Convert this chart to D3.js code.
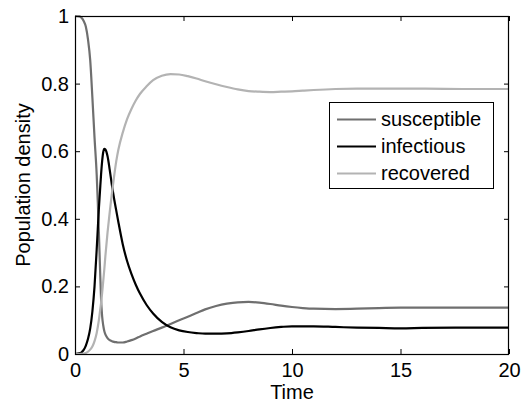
<!DOCTYPE html>
<html>
<head>
<meta charset="utf-8">
<script src="https://cdn.jsdelivr.net/npm/d3@7"></script>
<style>
  html, body { margin: 0; padding: 0; background: #fff; }
  svg { display: block; }
  text { font-family: "Liberation Sans", Arial, Helvetica, sans-serif; fill: #000; }
</style>
</head>
<body>
<svg id="chart" width="521" height="403"></svg>
<script>
// ---- data ----
const times = [0,0.2,0.3,0.4,0.5,0.6,0.7,0.8,0.9,1.0,1.05,1.1,1.15,1.2,1.25,1.3,1.35,1.4,1.5,1.6,1.7,1.8,1.9,2.0,2.2,2.4,2.6,2.8,3.0,3.3,3.6,4.0,4.4,4.8,5.2,5.6,6.0,6.5,7.0,7.5,8.0,8.5,9.0,9.5,10,10.5,11,12,13,14,15,16,18,20];
const susceptible = [1.0,0.999,0.995,0.985,0.968,0.93,0.87,0.76,0.64,0.53,0.45,0.36,0.26,0.165,0.112,0.085,0.068,0.058,0.047,0.041,0.038,0.036,0.035,0.034,0.034,0.037,0.041,0.046,0.052,0.06,0.068,0.078,0.089,0.1,0.11,0.121,0.132,0.142,0.149,0.153,0.154,0.152,0.148,0.143,0.139,0.136,0.134,0.133,0.134,0.136,0.137,0.137,0.137,0.137];
const infectious = [0,0.002,0.005,0.012,0.025,0.045,0.075,0.125,0.2,0.31,0.37,0.43,0.48,0.53,0.57,0.597,0.607,0.605,0.585,0.545,0.5,0.46,0.425,0.39,0.325,0.275,0.237,0.205,0.178,0.145,0.12,0.095,0.079,0.07,0.065,0.062,0.06,0.06,0.061,0.064,0.068,0.073,0.077,0.08,0.082,0.082,0.082,0.08,0.078,0.077,0.076,0.077,0.078,0.078];
const recovered = [0,0,0.0005,0.001,0.003,0.007,0.013,0.022,0.038,0.062,0.08,0.1,0.125,0.15,0.18,0.215,0.25,0.29,0.36,0.42,0.475,0.525,0.57,0.605,0.655,0.695,0.725,0.75,0.77,0.792,0.81,0.823,0.828,0.827,0.822,0.815,0.807,0.798,0.79,0.783,0.778,0.776,0.775,0.776,0.777,0.779,0.781,0.784,0.785,0.785,0.785,0.785,0.784,0.784];
const seriesNames = ["susceptible","infectious","recovered"];
const seriesColors = ["#6f6f6f","#000000","#b3b3b3"];
const xTicks = [0,5,10,15,20];
const yTicks = [0,0.2,0.4,0.6,0.8,1];
const xLabel = "Time";
const yLabel = "Population density";

// ---- layout ----
const svg = d3.select("#chart");
const L = 75, R = 509, T = 16, B = 354;
const x = d3.scaleLinear().domain([0,20]).range([L,R]);
const y = d3.scaleLinear().domain([0,1]).range([B,T]);
const fs = 20;

const series = [susceptible, infectious, recovered];
const line = d3.line()
  .x((d,i) => x(times[i]))
  .y(d => y(d))
  .curve(d3.curveMonotoneX);

const plot = svg.append("g");
plot.append("clipPath").attr("id","clip").append("rect")
  .attr("x",L).attr("y",T-2).attr("width",R-L).attr("height",B-T+4);

const lines = plot.append("g").attr("clip-path","url(#clip)");
series.forEach((s,k) => {
  lines.append("path")
    .datum(s)
    .attr("d", line)
    .attr("fill","none")
    .attr("stroke", seriesColors[k])
    .attr("stroke-width", 2.2)
    .attr("stroke-linejoin","round");
});

// axes (MATLAB-like: inward ticks, box)
const tickLen = 5;
const xAxisB = d3.axisBottom(x).tickValues(xTicks).tickSize(-tickLen).tickPadding(9).tickFormat(d3.format("d"));
const xAxisT = d3.axisTop(x).tickValues(xTicks).tickSize(-tickLen).tickFormat("");
const yAxisL = d3.axisLeft(y).tickValues(yTicks).tickSize(-tickLen).tickPadding(6).tickFormat(d => d === 0 || d === 1 ? String(d) : d3.format(".1f")(d));
const yAxisR = d3.axisRight(y).tickValues(yTicks).tickSize(-tickLen).tickFormat("");

function style(g) {
  g.select(".domain").remove();
  g.selectAll(".tick line").attr("stroke","#000").attr("stroke-width",1);
  g.selectAll(".tick text").attr("font-size", fs).attr("font-family","Liberation Sans, Arial, sans-serif").attr("fill","#000");
}
svg.append("g").attr("transform",`translate(0,${B})`).call(xAxisB).call(style);
svg.append("g").attr("transform",`translate(0,${T})`).call(xAxisT).call(style);
svg.append("g").attr("transform",`translate(${L},0)`).call(yAxisL).call(style);
svg.append("g").attr("transform",`translate(${R},0)`).call(yAxisR).call(style);

svg.append("rect")
  .attr("x",L+0.5).attr("y",T+0.5).attr("width",R-L-1).attr("height",B-T)
  .attr("fill","none").attr("stroke","#000").attr("stroke-width",1.2);

// axis labels
svg.append("text").attr("x",(L+R)/2).attr("y",399).attr("text-anchor","middle")
  .attr("font-size",fs).text(xLabel);
svg.append("text").attr("transform",`translate(30,${(T+B)/2}) rotate(-90)`)
  .attr("text-anchor","middle").attr("font-size",fs).text(yLabel);

// legend
const lg = svg.append("g");
lg.append("rect").attr("x",329.5).attr("y",102.5).attr("width",164).attr("height",86)
  .attr("fill","#fff").attr("stroke","#000").attr("stroke-width",1);
const rowY = [119.5,146.5,173.5];
seriesNames.forEach((n,k) => {
  lg.append("line").attr("x1",337).attr("x2",376).attr("y1",rowY[k]).attr("y2",rowY[k])
    .attr("stroke",seriesColors[k]).attr("stroke-width",2.2);
  lg.append("text").attr("x",381).attr("y",rowY[k]).attr("dy","0.33em")
    .attr("font-size",fs).text(n);
});
</script>
</body>
</html>
